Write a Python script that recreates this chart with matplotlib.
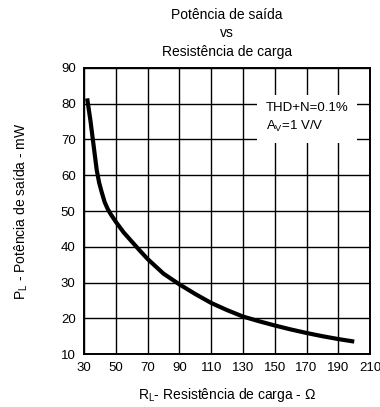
import matplotlib
matplotlib.use("Agg")
import matplotlib.pyplot as plt

plt.rcParams["font.family"] = ["Liberation Sans", "DejaVu Sans"]
plt.rcParams["mathtext.fontset"] = "custom"
plt.rcParams["mathtext.rm"] = "Liberation Sans"

# curve: load resistance (ohm) vs output power (mW)
R_OHM = [32, 33, 34, 35, 36, 37, 38, 39.5, 41, 43, 45, 47, 50, 55, 60, 65, 70,
         80, 90, 100, 110, 120, 130, 140, 150, 160, 170, 180, 190, 200]
P_MW = [81.5, 78.5, 75.5, 72, 68.5, 65, 61.5, 58, 55.5, 52.5, 50.5, 49, 47,
        44, 41.5, 39, 36.6, 32.5, 29.5, 26.8, 24.3, 22.3, 20.5, 19.2, 18, 16.9,
        15.9, 15, 14.2, 13.5]
X_TICKS = list(range(30, 211, 20))
Y_TICKS = list(range(10, 91, 10))

fig = plt.figure(figsize=(3.8, 4.07), dpi=100)
ax = fig.add_axes([0.221, 0.130, 0.753, 0.703])

ax.plot(R_OHM, P_MW, color="black", linewidth=3.0, solid_capstyle="butt", zorder=3)

ax.set_xlim(30, 210)
ax.set_ylim(10, 90)
ax.set_xticks(X_TICKS)
ax.set_yticks(Y_TICKS)
ax.grid(True, color="black", linewidth=1.0)
ax.set_axisbelow(True)
for s in ax.spines.values():
    s.set_linewidth(1.4)
ax.tick_params(length=0, labelsize=9.5, pad=6)

ax.set_xlabel(r"R$_\mathregular{L}$- Resistência de carga - Ω", fontsize=10, labelpad=8)
ax.set_ylabel(r"P$_\mathregular{L}$ - Potência de saída - mW", fontsize=10, labelpad=22)

fig.text(0.597, 0.962, "Potência de saída", ha="center", va="center", fontsize=10)
fig.text(0.597, 0.918, "vs", ha="center", va="center", fontsize=10)
fig.text(0.597, 0.872, "Resistência de carga", ha="center", va="center", fontsize=10)

ax.text(0.635, 0.88, "THD+N=0.1%\nA$_\\mathregular{V}$=1 V/V", transform=ax.transAxes,
        ha="left", va="top", fontsize=9.5, linespacing=1.45, zorder=4,
        bbox=dict(facecolor="white", edgecolor="none", pad=6))

fig.savefig("out.png", dpi=100)
